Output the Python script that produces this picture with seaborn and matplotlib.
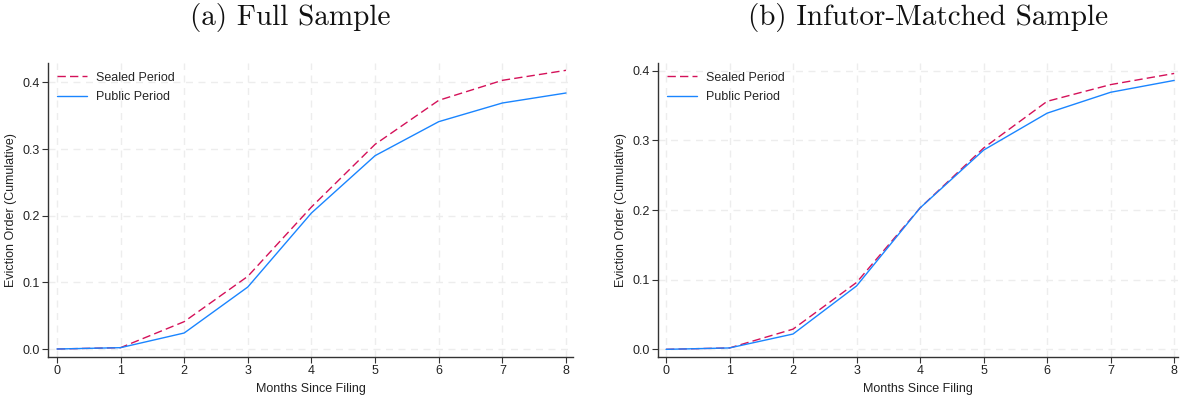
import numpy as np
import pandas as pd
import matplotlib
matplotlib.use("Agg")
import matplotlib.pyplot as plt
import seaborn as sns

months = [0, 1, 2, 3, 4, 5, 6, 7, 8]
full_sealed = [0.0, 0.002, 0.041, 0.109, 0.213, 0.307, 0.373, 0.403, 0.418]
full_public = [0.0, 0.002, 0.024, 0.093, 0.204, 0.290, 0.341, 0.369, 0.384]
inf_sealed = [0.0, 0.002, 0.029, 0.096, 0.203, 0.289, 0.356, 0.380, 0.396]
inf_public = [0.0, 0.002, 0.022, 0.091, 0.203, 0.286, 0.339, 0.369, 0.386]
series_names = ["Sealed Period", "Public Period"]
titles = ["(a) Full Sample", "(b) Infutor-Matched Sample"]
x_ticks = [0, 1, 2, 3, 4, 5, 6, 7, 8]
y_ticks = [0.0, 0.1, 0.2, 0.3, 0.4]

sns.set_theme(style="white")
plt.rcParams["font.family"] = ["Liberation Sans", "DejaVu Sans"]

W, H = 1180, 398
fig = plt.figure(figsize=(W / 100, H / 100), dpi=100)

palette = {"Sealed Period": "#d41159", "Public Period": "#1a85ff"}
dashes = {"Sealed Period": (6, 3), "Public Period": ""}

def px_axes(l, t, r, b):
    return fig.add_axes([l / W, 1 - b / H, (r - l) / W, (b - t) / H])

panels = [
    (px_axes(48, 63, 573, 357), full_sealed, full_public, (-0.14, 8.11), (-0.012, 0.429)),
    (px_axes(658, 63, 1178, 357), inf_sealed, inf_public, (-0.126, 8.06), (-0.011, 0.411)),
]

for ax, sealed, public, xl, yl in panels:
    df = pd.DataFrame({
        "month": months * 2,
        "value": sealed + public,
        "series": [series_names[0]] * len(months) + [series_names[1]] * len(months),
    })
    ax.set_axisbelow(True)
    for xv in x_ticks:
        ax.axvline(xv, color="#ededed", lw=1.0, ls=(0, (5, 4)), zorder=0)
    for yv in y_ticks:
        ax.axhline(yv, color="#ededed", lw=1.0, ls=(0, (5, 4)), zorder=0)
    sns.lineplot(data=df, x="month", y="value", hue="series", style="series",
                 palette=palette, dashes=dashes, hue_order=series_names,
                 style_order=series_names, lw=1.0, ax=ax)
    ax.set_xlim(*xl)
    ax.set_ylim(*yl)
    ax.set_xticks(x_ticks)
    ax.set_yticks(y_ticks)
    ax.set_yticklabels([f"{v:.1f}" for v in y_ticks])
    ax.tick_params(axis="both", which="major", length=4, width=0.8, color="#333333",
                   labelsize=9, labelcolor="#222222", pad=2, direction="out",
                   bottom=True, left=True)
    for s in ["top", "right"]:
        ax.spines[s].set_visible(False)
    for s in ["left", "bottom"]:
        ax.spines[s].set_color("#333333")
        ax.spines[s].set_linewidth(1.0)
    ax.set_xlabel("Months Since Filing", fontsize=9, color="#222222", labelpad=4)
    ax.set_ylabel("Eviction Order (Cumulative)", fontsize=9, color="#222222", labelpad=4)
    leg = ax.legend(loc="upper left", bbox_to_anchor=(0.0, 1.0), frameon=False,
                    fontsize=9, handlelength=2.4, handletextpad=0.7, labelspacing=0.6,
                    borderaxespad=0.3)

fig.text(290 / W, 1 - 17 / H, titles[0], ha="center", va="center",
         fontfamily="cmr10", fontsize=21, color="#111111")
fig.text(928 / W, 1 - 17 / H, titles[1], ha="center", va="center",
         fontfamily="cmr10", fontsize=21, color="#111111")

fig.savefig("out.png", dpi=100)
